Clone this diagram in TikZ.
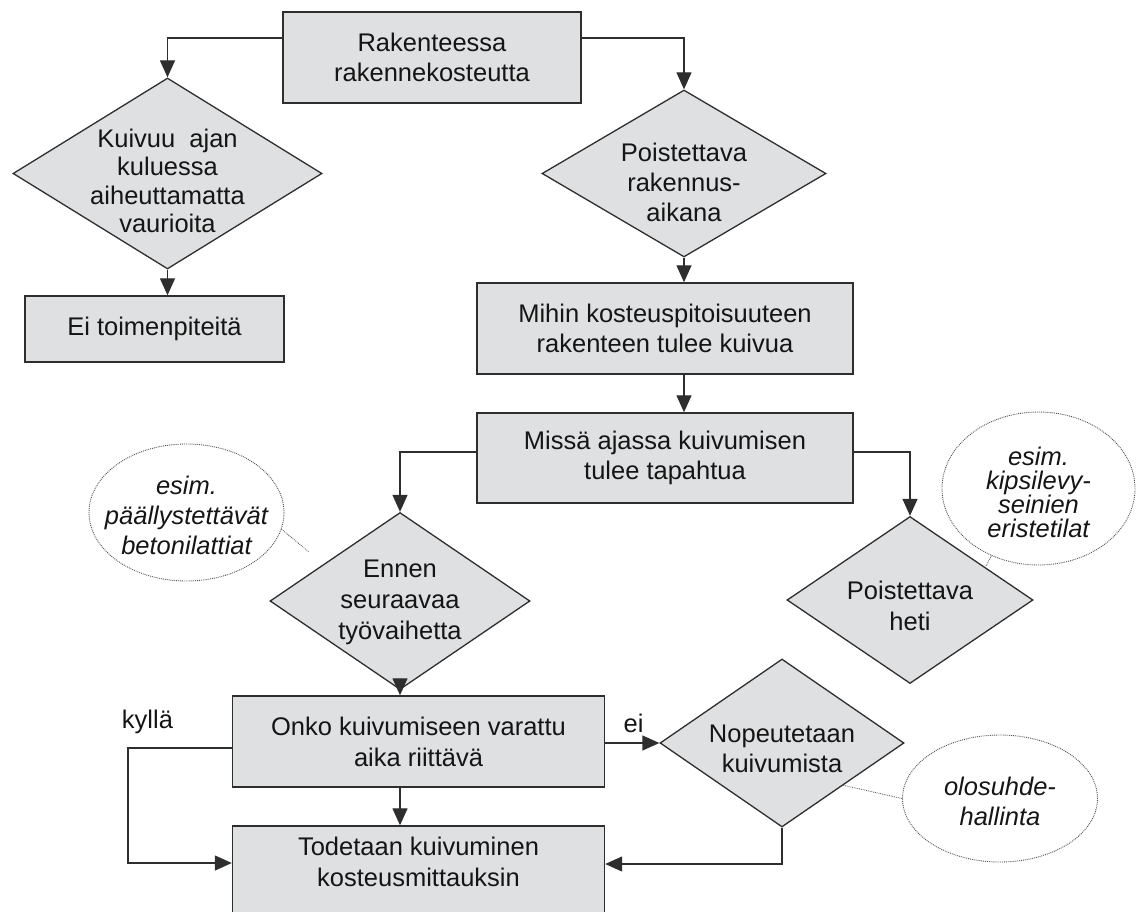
\documentclass[tikz,border=0pt]{standalone}
\usepackage{fontspec}
\setmainfont{Liberation Sans}
\usetikzlibrary{shapes.geometric,arrows.meta}
\definecolor{boxfill}{HTML}{DFE0E2}
\definecolor{linec}{HTML}{2E2E2E}
\definecolor{txtc}{HTML}{151515}
\definecolor{dotc}{HTML}{505050}
\tikzset{
  fs/.style={font={\fontsize{25.5}{#1}\selectfont}},
  fsi/.style={font={\fontsize{25.5}{#1}\selectfont\itshape}},
  boxn/.style={rectangle, draw=linec, line width=1.4pt, fill=boxfill, inner sep=0pt,
               align=center, text=txtc, fs=30},
  dia/.style={diamond, draw=linec, line width=1.3pt, fill=boxfill, inner sep=0pt},
  ell/.style={ellipse, draw=dotc, densely dotted, line width=0.9pt, inner sep=0pt},
  txt/.style={align=center, text=txtc, inner sep=0pt},
  conn/.style={draw=linec, line width=1.3pt, -{Triangle[length=17pt,width=15pt]}},
  note/.style={draw=dotc, densely dotted, line width=0.8pt},
}
\begin{document}
\begin{tikzpicture}[x=1pt, y=-1pt]
\useasboundingbox (0,0) rectangle (1140,912);

% level coordinates
\coordinate (L1) at (0,38);
\coordinate (L2) at (0,452);
\coordinate (Lk) at (128,748);
\coordinate (Lt) at (0,863);
\coordinate (Lr) at (0,864);
\coordinate (n1end) at (309,552);
\coordinate (n2end) at (986,566);

% boxes
\node[boxn, minimum width=298pt, minimum height=91pt] (box1) at (432,57.5) {Rakenteessa\\rakennekosteutta};
\node[boxn, minimum width=259pt, minimum height=66pt] (box2) at (154.5,329) {Ei toimenpiteitä};
\node[boxn, minimum width=376pt, minimum height=91pt] (box3) at (665,328.5) {Mihin kosteuspitoisuuteen\\rakenteen tulee kuivua};
\node[boxn, minimum width=376pt, minimum height=90pt] (box4) at (665,458) {Missä ajassa kuivumisen\\tulee tapahtua};
\node[boxn, fs=31, minimum width=372pt, minimum height=91pt] (box5) at (418.5,741.5) {Onko kuivumiseen varattu\\aika riittävä};
\node[boxn, minimum width=372pt, minimum height=114pt] (box6) at (418.5,883) {};
\node[txt, fs=31] (box6t) at (418.5,862) {Todetaan kuivuminen\\kosteusmittauksin};

% diamonds
\node[dia, minimum width=309pt, minimum height=191pt] (d1) at (167.5,173.5) {};
\node[txt, fs=28.3] (d1t) at (167.5,181) {Kuivuu\ \ ajan\\kuluessa\\aiheuttamatta\\vaurioita};
\node[dia, minimum width=284pt, minimum height=167pt] (d2) at (684,173.5) {};
\node[txt, fs=30] (d2t) at (684,182) {Poistettava\\rakennus-\\aikana};
\node[dia, minimum width=260pt, minimum height=177pt] (d3) at (400,601) {};
\node[txt, fs=31] (d3t) at (400,602) {Ennen\\seuraavaa\\työvaihetta};
\node[dia, minimum width=246pt, minimum height=167pt] (d4) at (910,600) {};
\node[txt, fs=31] (d4t) at (910,606) {Poistettava\\heti};
\node[dia, minimum width=244pt, minimum height=168pt] (d5) at (782,743) {};
\node[txt, fs=30] (d5t) at (782,749) {Nopeutetaan\\kuivumista};

% ellipses
\node[ell, minimum width=195pt, minimum height=137pt] (e1) at (186.5,512.5) {};
\node[txt, fsi=30] (e1t) at (186.5,515) {esim.\\päällystettävät\\betonilattiat};
\node[ell, minimum width=193pt, minimum height=153pt] (e2) at (1038.5,488.5) {};
\node[txt, fsi=24] (e2t) at (1038.5,492) {esim.\\kipsilevy-\\seinien\\eristetilat};
\node[ell, minimum width=195pt, minimum height=127pt] (e3) at (1000,798.5) {};
\node[txt, fsi=30] (e3t) at (1000,801) {olosuhde-\\hallinta};

% labels
\node[txt, fs=30, anchor=base] (kylla) at (147.5,728) {kyllä};
\node[txt, fs=30, anchor=base] (ei) at (633.5,732) {ei};

% connectors
\draw[conn] (box1.west |- L1) -| (d1.north);
\draw[conn] (box1.east |- L1) -| (d2.north);
\draw[conn] (d1.south) -- (d1.south |- box2.north);
\draw[conn] (d2.south) -- (d2.south |- box3.north);
\draw[conn] (box3.south -| d2.south) -- (box4.north -| d2.south);
\draw[conn] (box4.west |- L2) -| (d3.north);
\draw[conn] (box4.east |- L2) -| (d4.north);
\draw[conn] (d3.south) -- (d3.south |- box5.north);
\draw[conn] (box5.south -| d3.south) -- (box6.north -| d3.south);
\draw[conn] (box5.west |- Lk) -- (Lk) |- (box6.west |- Lt);
\draw[conn] (box5.east |- d5.west) -- (d5.west);
\draw[conn] (d5.south) |- (box6.east |- Lr);

% note connectors
\draw[note] (e1.-10) -- (n1end);
\draw[note] (e2.235) -- (n2end);
\draw[note] (d5.south east) -- (e3.west);
\end{tikzpicture}
\end{document}
